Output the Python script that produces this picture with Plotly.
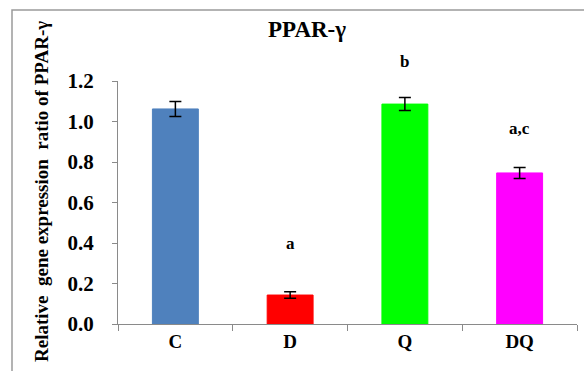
import plotly.graph_objects as go

categories = ["C", "D", "Q", "DQ"]
values = [1.062, 0.143, 1.086, 0.746]
errors = [0.037, 0.016, 0.032, 0.027]
colors = ["#4F81BD", "#FF0000", "#00FF00", "#FF00FF"]
letters = ["", "a", "b", "a,c"]
letter_y = [None, 0.40, 1.294, 0.963]
y_ticks = [0.0, 0.2, 0.4, 0.6, 0.8, 1.0, 1.2]

FONT = "Liberation Serif"
W, H = 584, 371
L, R, T, B = 118, 7, 81, 47
pw, ph = W - L - R, H - T - B

fig = go.Figure()
fig.add_trace(go.Bar(
    x=categories, y=values, width=0.4,
    marker=dict(color=colors, line=dict(color=colors, width=1)),
    error_y=dict(type="data", array=errors, color="black", thickness=1.5, width=6),
    cliponaxis=False,
))

for c, t, yy in zip(categories, letters, letter_y):
    if t:
        fig.add_annotation(x=c, y=yy / 1.2, xref="x", yref="paper", text="<b>" + t + "</b>",
                           showarrow=False, xanchor="center", yanchor="middle",
                           font=dict(family=FONT, size=17, color="black"))

# title
fig.add_annotation(x=(307 - L) / pw, y=(H - B - 30) / ph, xref="paper", yref="paper",
                   text="<b>PPAR-γ</b>", showarrow=False, xanchor="center", yanchor="middle",
                   font=dict(family=FONT, size=23, color="black"))
# y axis title
fig.add_annotation(x=(41 - L) / pw, y=(H - B - 192) / ph, xref="paper", yref="paper",
                   text="<b>Relative  gene expression  ratio of PPAR-γ</b>", showarrow=False,
                   textangle=-90, xanchor="center", yanchor="middle",
                   font=dict(family=FONT, size=19, color="black"))

# outer frame
fig.add_shape(type="rect", xref="paper", yref="paper",
              x0=(12 - L) / pw, x1=(620 - L) / pw,
              y0=(H - B - 420) / ph, y1=(H - B - 10) / ph,
              line=dict(color="#9a9a9a", width=1.5), fillcolor="rgba(0,0,0,0)", layer="below")

fig.update_layout(
    width=W, height=H,
    margin=dict(l=L, r=R, t=T, b=B),
    paper_bgcolor="white", plot_bgcolor="white",
    showlegend=False,
    font=dict(family=FONT),
)
fig.update_xaxes(
    type="category", range=[-0.5, 3.5],
    showline=True, linecolor="#8a8a8a", linewidth=1.2,
    ticks="outside", ticklen=6, tickcolor="#8a8a8a", tickson="boundaries",
    showgrid=False, zeroline=False,
    tickvals=categories, ticktext=["<b>" + c + "</b>" for c in categories],
    tickfont=dict(family=FONT, size=19, color="black"),
)
fig.update_yaxes(
    range=[0, 1.2], tickvals=y_ticks, ticktext=[f"<b>{v:.1f}</b>" for v in y_ticks],
    showline=True, linecolor="#8a8a8a", linewidth=1.2,
    ticks="outside", ticklen=5, tickcolor="#8a8a8a",
    showgrid=False, zeroline=False, ticklabelstandoff=14,
    tickfont=dict(family=FONT, size=21, color="black"),
)

fig.write_html("out.html")
